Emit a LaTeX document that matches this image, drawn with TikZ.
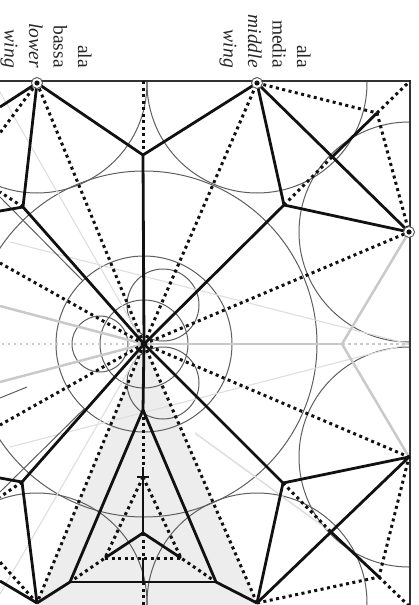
\documentclass[tikz,border=0pt]{standalone}
\usepackage{fontspec}
\setmainfont{Liberation Serif}
\definecolor{grigioPiega}{HTML}{C9C9C9}
\definecolor{grigioTenue}{HTML}{DEDEDE}
\definecolor{grigioFondo}{HTML}{EDEDED}
\definecolor{grigioArco}{HTML}{5E5E5E}
\definecolor{nero}{HTML}{111111}

\begin{document}
\begin{tikzpicture}[
    x=1pt, y=-1pt,
    monte/.style={draw=nero, line width=2.8pt, line join=round},
    valle/.style={draw=nero, line width=3pt, dash pattern=on 3pt off 3.5pt},
    arco/.style={draw=grigioArco, line width=1pt},
    sottile/.style={draw=grigioArco, line width=1pt},
    guida/.style={draw=grigioPiega, line width=2.5pt},
    guidapunti/.style={draw=grigioPiega, line width=2.5pt, dash pattern=on 2.5pt off 3.5pt},
    tenue/.style={draw=grigioTenue, line width=1.1pt},
    cornice/.style={draw=black!80, line width=1.4pt},
    perno/.style={circle, draw=grigioArco, line width=1pt, fill=white, minimum size=11pt, inner sep=0pt},
    etichetta/.style={rotate=-90, anchor=east, align=right, font=\fontsize{19.5}{24.5}\selectfont, text=black!85, inner sep=0pt}
  ]
  \useasboundingbox (0,0) rectangle (419,605);
  \clip (0,0) rectangle (419,605);

  % vertici
  \coordinate (centro) at (144,344);
  \coordinate (ba) at (37,83);
  \coordinate (me) at (257,83);
  \coordinate (de) at (409,232);
  \coordinate (dd) at (409,457);
  \coordinate (md) at (257,603);
  \coordinate (bd) at (37,603);
  \coordinate (alto) at (143,81);
  \coordinate (valico) at (143,155);
  \coordinate (gomA) at (23,207);
  \coordinate (gomB) at (284,205);
  \coordinate (gomC) at (283,483);
  \coordinate (gomD) at (22,482);
  \coordinate (puntaA) at (377,113);
  \coordinate (incA) at (332,157);
  \coordinate (puntaB) at (379,577);
  \coordinate (incB) at (331,532);
  \coordinate (angA) at (410,81);
  \coordinate (angB) at (410,607);
  \coordinate (sinA) at (0,81);
  \coordinate (punta) at (342,344);
  \coordinate (bordo) at (409,344);

  % triangolo
  \coordinate (picco) at (143,410);
  \coordinate (baseS) at (70,582);
  \coordinate (baseD) at (216,582);
  \coordinate (baseM) at (143,582);
  \coordinate (croce) at (143,477);
  \coordinate (cimaT) at (143,467);
  \coordinate (nodo) at (143,533);
  \coordinate (aliS) at (105,558);
  \coordinate (aliD) at (181,558);
  \coordinate (aliM) at (143,558);
  \coordinate (fondo) at (143,607);

  \fill[grigioFondo] (centro) -- (35,607) -- (259,607) -- cycle;

  % archi
  \begin{scope}
    \clip (0,81) rectangle (410,607);
    \foreach \c in {ba,me,de,dd,md,bd}
      \draw[arco] (\c) circle (110);
    \draw[arco] (centro) circle (173);
    \draw[arco] (centro) circle (88);
    \draw[arco] (centro) circle (44);
    \draw[arco] (163,305) circle (36);
    \draw[arco] (163,383) circle (36);
    \draw[arco] (100,344) circle (28);
  \end{scope}

  % pieghe chiare
  \draw[tenue] (centro) -- (0,92);
  \draw[tenue] (centro) -- (0,594);
  \draw[tenue] (10,242) -- (bordo);
  \draw[tenue] (10,447) -- (bordo);
  \draw[tenue, line width=1.5pt] (195,433) -- (incB);
  \draw[guida] (de) -- (punta) -- (dd);
  \draw[guida] (punta) -- (centro);
  \draw[guida] (centro) -- (0,306);
  \draw[guida] (centro) -- (0,382);
  \draw[guidapunti] (punta) -- (bordo);
  \draw[guidapunti] (130,344) -- (0,344);

  \draw[sottile] (0,197) -- (83,281);
  \draw[sottile] (0,492) -- (84,409);
  \draw[sottile] (0,398) -- (27,387);

  \draw[cornice] (sinA) -- (angA) -- (angB);

  % valli
  \foreach \p in {ba,me,de,dd,md,bd}
    \draw[valle] (centro) -- (\p);
  \draw[valle] (centro) -- (0,263);
  \draw[valle] (centro) -- (0,425);
  \draw[valle] (alto) -- (valico);
  \draw[valle] (me) -- (puntaA) -- (de);
  \draw[valle] (md) -- (puntaB) -- (dd);
  \draw[valle] (puntaA) -- (angA);
  \draw[valle] (puntaB) -- (angB);
  \draw[valle] (gomB) -- (incA);
  \draw[valle] (gomC) -- (incB);
  \draw[valle] (ba) -- (0,133);
  \draw[valle] (bd) -- (0,562);
  \draw[valle] (gomA) -- (0,192);
  \draw[valle] (gomD) -- (0,497);
  \draw[valle] (picco) -- (cimaT);
  \draw[valle] (croce) -- (aliS) -- (baseS);
  \draw[valle] (croce) -- (aliD) -- (baseD);
  \draw[valle] (aliS) -- (aliD);
  \draw[valle] (nodo) -- (aliM);
  \draw[valle] (baseM) -- (fondo);

  % monti
  \draw[monte] (ba) -- (valico) -- (me);
  \draw[monte] (valico) -- (centro) -- (picco);
  \draw[monte] (ba) -- (gomA) -- (centro) -- (gomB) -- (me);
  \draw[monte] (gomB) -- (de) -- (me);
  \draw[monte] (bd) -- (gomD) -- (centro) -- (gomC) -- (md);
  \draw[monte] (gomC) -- (dd) -- (md);
  \draw[monte] (puntaA) -- (incA);
  \draw[monte] (puntaB) -- (incB);
  \draw[monte] (gomA) -- (0,211);
  \draw[monte] (gomD) -- (0,478);
  \draw[monte] (ba) -- (0,107);
  \draw[monte] (bd) -- (0,581);
  \draw[monte] (bd) -- (baseS) -- (picco) -- (baseD) -- (md);
  \draw[monte] (baseS) -- (baseD);
  \draw[monte] (cimaT) -- (nodo);
  \draw[monte] (137,477) -- (149,477);
  \draw[monte] (aliS) -- (nodo) -- (aliD);
  \draw[monte] (aliM) -- (baseM);

  % perni
  \foreach \p in {ba,me,de}
    \node[perno] (perno\p) at (\p) {};
  \foreach \p in {ba,me,de}
    \fill[nero] (\p) circle (2.6);

  \node[etichetta] (testoba) at (46,68) {ala\\bassa\\\textit{lower}\\\textit{wing}};
  \node[etichetta] (testome) at (265,68) {ala\\media\\\textit{middle}\\\textit{wing}};
\end{tikzpicture}
\end{document}
